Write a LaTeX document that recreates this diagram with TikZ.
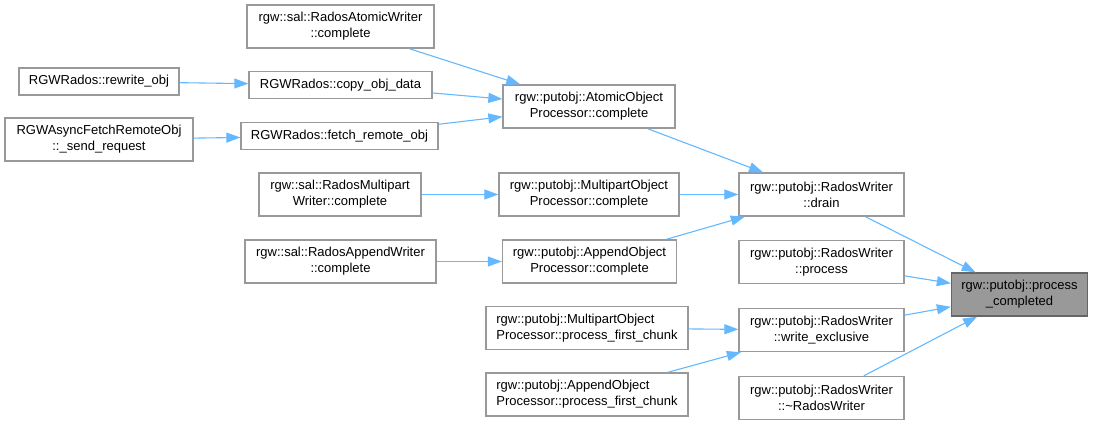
\documentclass[tikz,border=0pt]{standalone}
\usepackage{fontspec}
\setmainfont{Liberation Sans}
\definecolor{edgeblue}{RGB}{99,184,255}
\definecolor{boxline}{RGB}{153,153,153}
\definecolor{rootfill}{RGB}{153,153,153}
\definecolor{rootline}{RGB}{102,102,102}
\usetikzlibrary{arrows.meta, positioning}
\tikzset{
  fn/.style={rectangle, draw=boxline, fill=white, line width=1.3pt,
    minimum height=43pt, inner sep=0pt, align=center,
    font=\fontsize{13}{16}\selectfont},
  fnone/.style={fn, minimum height=27pt},
  fnroot/.style={fn, draw=rootline, fill=rootfill},
  call/.style={-{Triangle[length=14pt, width=10pt]}, color=edgeblue, line width=1.1pt},
}
\begin{document}
\begin{tikzpicture}[x=1pt, y=-1pt]
  \useasboundingbox (0,0) rectangle (1095,421);

  \node[fnroot, minimum width=136pt] (done) at (1019.5,294.5)
    {rgw::putobj::process\\\_completed};

  \node[fn, minimum width=165pt] (drain) at (821.5,194.5)
    {rgw::putobj::RadosWriter\\::drain};
  \node[fn, minimum width=165pt, below=23.5pt of drain] (process)
    {rgw::putobj::RadosWriter\\::process};
  \node[fn, minimum width=165pt, below=23.5pt of process] (wexcl)
    {rgw::putobj::RadosWriter\\::write\_exclusive};
  \node[fn, minimum width=165pt, below=23.5pt of wexcl] (dtor)
    {rgw::putobj::RadosWriter\\::\textasciitilde RadosWriter};

  \node[fn, minimum width=172pt] (atomicproc) at (589,106.5)
    {rgw::putobj::AtomicObject\\Processor::complete};
  \node[fn, minimum width=180pt] (mpproc) at (589,194.5)
    {rgw::putobj::MultipartObject\\Processor::complete};
  \node[fn, minimum width=174pt] (appendproc) at (589.5,261.5)
    {rgw::putobj::AppendObject\\Processor::complete};
  \node[fn, minimum width=202pt, align=left] (mpfirst) at (587,328)
    {rgw::putobj::MultipartObject\\Processor::process\_first\_chunk};
  \node[fn, minimum width=202pt, align=left] (appendfirst) at (587,394.5)
    {rgw::putobj::AppendObject\\Processor::process\_first\_chunk};

  \node[fn, minimum width=187pt] (atomicwriter) at (340.5,26.5)
    {rgw::sal::RadosAtomicWriter\\::complete};
  \node[fnone, minimum width=183pt] (copydata) at (340.5,85)
    {RGWRados::copy\_obj\_data};
  \node[fnone, minimum width=197pt] (fetchremote) at (339.5,136)
    {RGWRados::fetch\_remote\_obj};
  \node[fn, minimum width=162pt] (mpwriter) at (340,194.5)
    {rgw::sal::RadosMultipart\\Writer::complete};
  \node[fn, minimum width=191pt] (appendwriter) at (340.5,261.5)
    {rgw::sal::RadosAppendWriter\\::complete};

  \node[fnone, minimum width=160pt] (rewrite) at (99,81.5)
    {RGWRados::rewrite\_obj};
  \node[fn, minimum width=188pt] (asyncfetch) at (99,139.5)
    {RGWAsyncFetchRemoteObj\\::\_send\_request};

  \draw[call] (rewrite) -- (copydata);
  \draw[call] (asyncfetch) -- (fetchremote);
  \draw[call] (atomicwriter) -- (atomicproc);
  \draw[call] (copydata) -- (atomicproc);
  \draw[call] (fetchremote) -- (atomicproc);
  \draw[call] (mpwriter) -- (mpproc);
  \draw[call] (appendwriter) -- (appendproc);
  \draw[call] (atomicproc) -- (drain);
  \draw[call] (mpproc) -- (drain);
  \draw[call] (appendproc) -- (drain);
  \draw[call] (mpfirst) -- (wexcl);
  \draw[call] (appendfirst) -- (wexcl);
  \draw[call] (drain) -- (done);
  \draw[call] (process) -- (done);
  \draw[call] (wexcl) -- (done);
  \draw[call] (dtor) -- (done);
\end{tikzpicture}
\end{document}
